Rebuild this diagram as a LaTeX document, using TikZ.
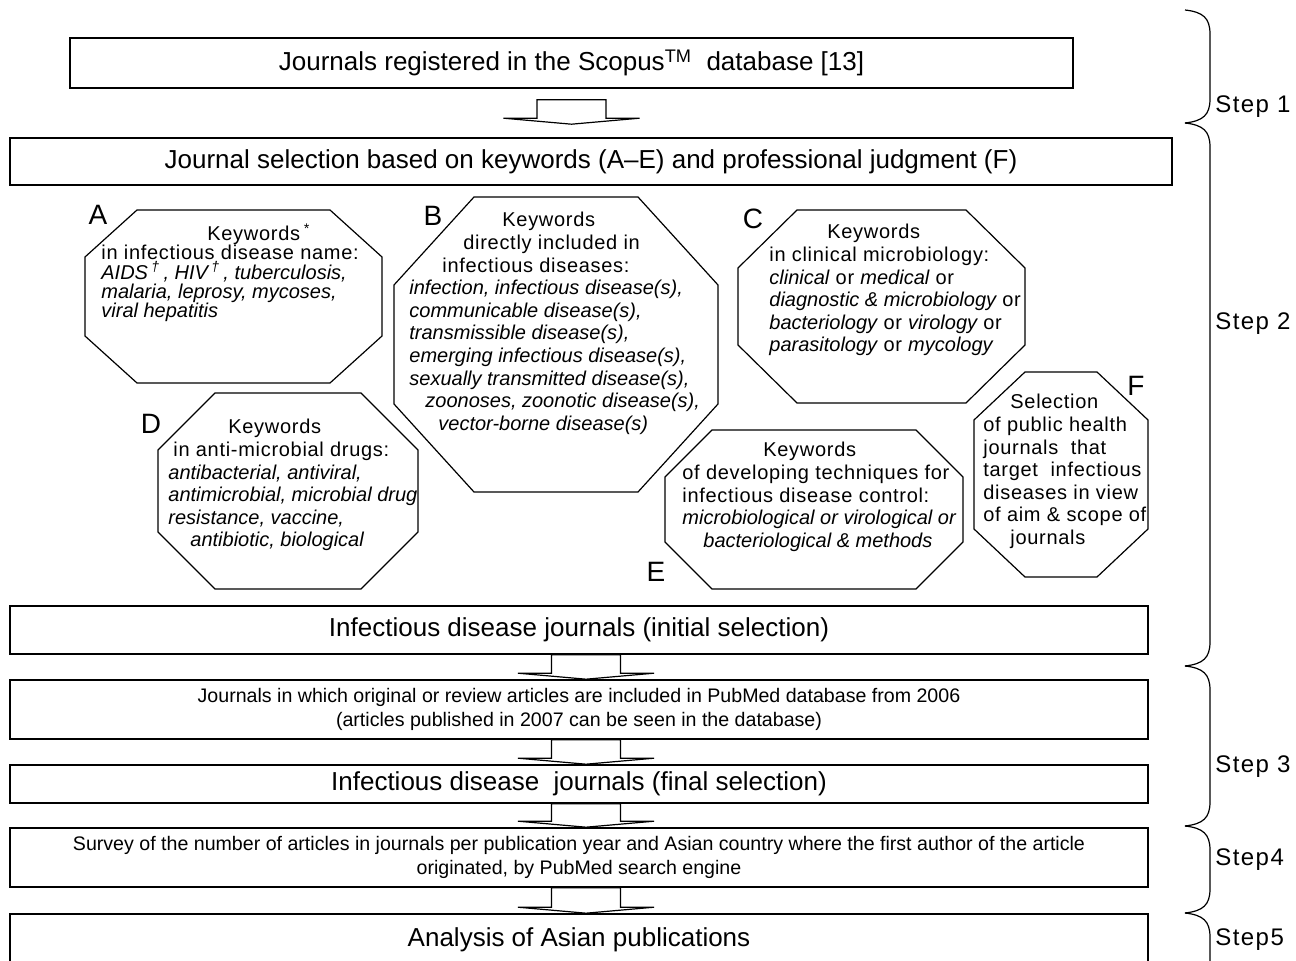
\documentclass[tikz,border=0pt]{standalone}
\usepackage{fontspec}
\setmainfont{Liberation Sans}
\newfontfamily\octfont[LetterSpace=3.5]{Liberation Sans}
\newfontfamily\stepfont[LetterSpace=6]{Liberation Sans}
\usetikzlibrary{calc}
% octagon: left, top, right, bottom, x cut, y cut
\newcommand{\octbox}[6]{%
  \draw[oct] (#1+#5,#2) -- (#3-#5,#2) -- (#3,#2+#6) -- (#3,#4-#6) -- (#3-#5,#4)
    -- (#1+#5,#4) -- (#1,#4-#6) -- (#1,#2+#6) -- cycle;}
% block arrow: from node, to node, start shift, end gap
\newcommand{\blockarr}[4]{%
  \draw[barrow] let \p1=($(#1.south)+(#3)$), \p2=($(#2.north)+(0,-#4)$) in
    (\x1-17.25pt,\y1) -- (\x1-17.25pt,\y2+3pt) -- (\x1-34pt,\y2+3pt) -- (\x1,\y2)
    -- (\x1+34pt,\y2+3pt) -- (\x1+17.25pt,\y2+3pt) -- (\x1+17.25pt,\y1) -- cycle;}
\newcommand{\kw}[1]{{\normalfont\itshape #1}}

\begin{document}
\begin{tikzpicture}[x=0.5pt,y=-0.5pt,
    box/.style={rectangle, draw, line width=0.8pt, inner sep=0pt, align=center,
                font=\fontsize{13}{15}\selectfont},
    smallbox/.style={box, font=\fontsize{9.8}{12}\selectfont},
    oct/.style={draw, line width=0.6pt},
    octtxt/.style={anchor=north west, inner sep=0pt, align=left,
                   font=\octfont\fontsize{10}{11.3}\selectfont},
    letter/.style={inner sep=0pt, font=\fontsize{14}{14}\selectfont},
    barrow/.style={line width=0.6pt},
    brace/.style={line width=0.6pt},
    steplabel/.style={anchor=west, inner sep=0pt, font=\stepfont\fontsize{12}{14}\selectfont}
]
    \useasboundingbox (0,0) rectangle (1296,961);

    % main flow
    \node[box, minimum width=501.5pt, minimum height=25pt] (b1) at (571.5,63)
        {Journals registered in the Scopus\textsuperscript{TM}\ \ database [13]};
    \node[box, minimum width=581pt, minimum height=23.5pt] (b2) at (591,161.5)
        {Journal selection based on keywords (A–E) and professional judgment (F)};
    \node[box, minimum width=569pt, minimum height=24pt] (b3) at (579,630)
        {Infectious disease journals (initial selection)};
    \node[smallbox, minimum width=569pt, minimum height=29.5pt] (b4) at (579,709.5)
        {Journals in which original or review articles are included in PubMed database from 2006\\(articles published in 2007 can be seen in the database)};
    \node[box, minimum width=569pt, minimum height=19pt] (b5) at (579,784)
        {Infectious disease\ \ journals (final selection)};
    \node[smallbox, minimum width=569pt, minimum height=29.5pt] (b6) at (579,857.5)
        {Survey of the number of articles in journals per publication year and Asian country where the first author of the article\\originated, by PubMed search engine};
    \node[box, minimum width=569pt, minimum height=26pt] (b7) at (579,940)
        {Analysis of Asian publications};

    \blockarr{b1}{b2}{0,11}{13}
    \blockarr{b3}{b4}{7,0}{0}
    \blockarr{b4}{b5}{7,0}{0}
    \blockarr{b5}{b6}{7,0}{0}
    \blockarr{b6}{b7}{7,0}{0}

    % keyword octagons
    \octbox{85}{210}{382}{383}{52}{47}
    \octbox{394}{197}{718}{492}{80}{88}
    \octbox{738}{210}{1025}{403}{59}{58}
    \octbox{158}{393}{418}{589}{57}{57}
    \octbox{665}{430}{963}{589}{47}{47}
    \octbox{974}{372}{1148}{577}{51}{48}

    \node[octtxt, font=\octfont\fontsize{10}{9.7}\selectfont] (txtA) at (101,223)
        {\hspace*{53pt}Keywords\,\textsuperscript{\kw{*}}\\in infectious disease name:\\
         \kw{AIDS\,\textsuperscript{†}\,, HIV\,\textsuperscript{†}\,, tuberculosis,}\\
         \kw{malaria, leprosy, mycoses,}\\\kw{viral hepatitis}};
    \node[octtxt] (txtB) at (409,212)
        {\hspace*{46.5pt}Keywords\\\hspace*{27pt}directly included in\\\hspace*{16.5pt}infectious diseases:\\
         \kw{infection, infectious disease(s),}\\\kw{communicable disease(s),}\\
         \kw{transmissible disease(s),}\\\kw{emerging infectious disease(s),}\\
         \kw{sexually transmitted disease(s),}\\\hspace*{8pt}\kw{zoonoses, zoonotic disease(s),}\\
         \hspace*{14.5pt}\kw{vector-borne disease(s)}};
    \node[octtxt] (txtC) at (769,224)
        {\hspace*{29pt}Keywords\\in clinical microbiology:\\\kw{clinical} or \kw{medical} or\\
         \kw{diagnostic \& microbiology} or\\\kw{bacteriology} or \kw{virology} or\\
         \kw{parasitology} or \kw{mycology}};
    \node[octtxt] (txtD) at (168,419)
        {\hspace*{30pt}Keywords\\\hspace*{2.5pt}in anti-microbial drugs:\\\kw{antibacterial, antiviral,}\\
         \kw{antimicrobial, microbial drug}\\\kw{resistance, vaccine,}\\
         \hspace*{11pt}\kw{antibiotic, biological}};
    \node[octtxt] (txtE) at (682,442)
        {\hspace*{40.5pt}Keywords\\of developing techniques for\\infectious disease control:\\
         \kw{microbiological or virological or}\\\hspace*{10.5pt}\kw{bacteriological \& methods}};
    \node[octtxt] (txtF) at (983,394)
        {\hspace*{13.5pt}Selection\\of public health\\journals\ \ that\\target\ \ infectious\\
         diseases in view\\of aim \& scope of\\\hspace*{13.5pt}journals};

    \node[letter] (labA) at (98,215) {A};
    \node[letter] (labB) at (433,216) {B};
    \node[letter] (labC) at (753,219) {C};
    \node[letter] (labD) at (151,424) {D};
    \node[letter] (labE) at (656,572) {E};
    \node[letter] (labF) at (1136,386) {F};

    % step braces
    \foreach \ya/\yb in {10/123, 123/666, 666/826, 826/913, 913/1010} {
        \draw[brace] (1185,\ya) .. controls (1203,\ya+2) and (1210,\ya+8) .. (1210,\ya+24)
            -- (1210,\yb-24) .. controls (1210,\yb-8) and (1203,\yb-2) .. (1185,\yb);
    }
    \node[steplabel] (s1) at (1215,107) {Step 1};
    \node[steplabel] (s2) at (1215,324) {Step 2};
    \node[steplabel] (s3) at (1215,767) {Step 3};
    \node[steplabel] (s4) at (1215,860) {Step4};
    \node[steplabel] (s5) at (1215,940) {Step5};
\end{tikzpicture}
\end{document}
